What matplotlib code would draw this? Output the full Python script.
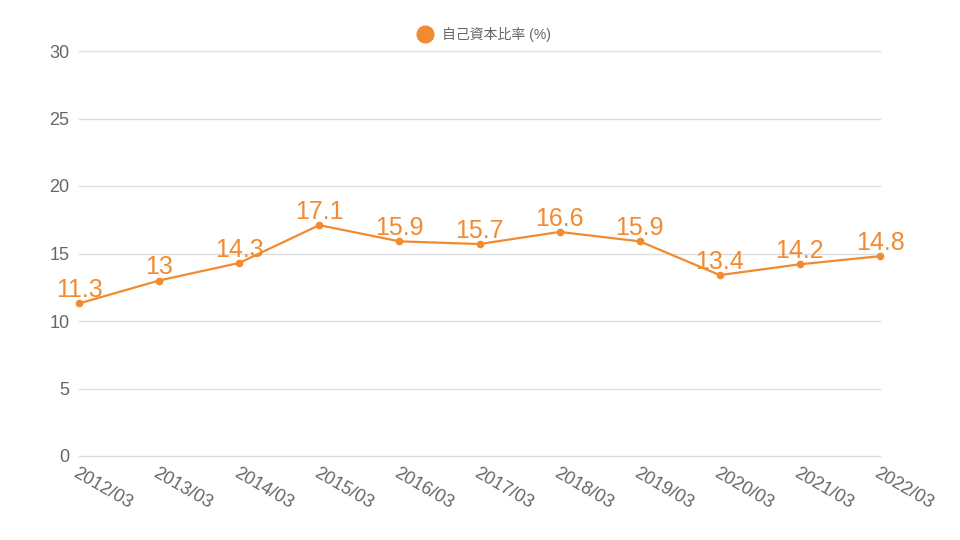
import matplotlib
matplotlib.use("Agg")
import matplotlib.pyplot as plt
from matplotlib.lines import Line2D

plt.rcParams['font.family'] = ['Liberation Sans', 'Noto Sans CJK JP', 'DejaVu Sans']

periods = ["2012/03", "2013/03", "2014/03", "2015/03", "2016/03", "2017/03",
           "2018/03", "2019/03", "2020/03", "2021/03", "2022/03"]
ratio = [11.3, 13, 14.3, 17.1, 15.9, 15.7, 16.6, 15.9, 13.4, 14.2, 14.8]
series_name = "自己資本比率 (%)"

orange = "#F28A30"
grey = "#666666"

fig = plt.figure(figsize=(9.6, 5.4), dpi=100)
ax = fig.add_axes([79 / 960, 1 - 456 / 540, 801 / 960, 405 / 540])

x = list(range(len(periods)))
ax.plot(x, ratio, color=orange, lw=1.6, marker='o', ms=4.5, zorder=3, clip_on=False)
for xi, v in zip(x, ratio):
    ax.annotate("%g" % v, (xi, v), xytext=(0, 1), textcoords='offset points',
                ha='center', va='bottom', color=orange, fontsize=18, zorder=4)

ax.set_xlim(0, len(periods) - 1)
ax.set_ylim(0, 30)
ax.set_yticks(range(0, 31, 5))
ax.set_xticks(x)
ax.set_xticklabels(periods, rotation=-30, ha='left', va='top', rotation_mode='anchor')
ax.tick_params(axis='both', length=0, colors=grey, labelsize=13)
ax.tick_params(axis='y', pad=7)
ax.tick_params(axis='x', pad=6)
ax.grid(axis='y', color='#dddddd', lw=1, clip_on=False)
for gl in ax.get_ygridlines():
    gl.set_clip_on(False)
ax.set_axisbelow(True)
for s in ax.spines.values():
    s.set_visible(False)

handle = Line2D([], [], color=orange, marker='o', ls='none', ms=12)
fig.legend([handle], [series_name], loc='center', bbox_to_anchor=(481 / 960, 1 - 34 / 540),
           frameon=False, fontsize=10, labelcolor=grey, handletextpad=0.2)

fig.savefig("out.png", dpi=100)
